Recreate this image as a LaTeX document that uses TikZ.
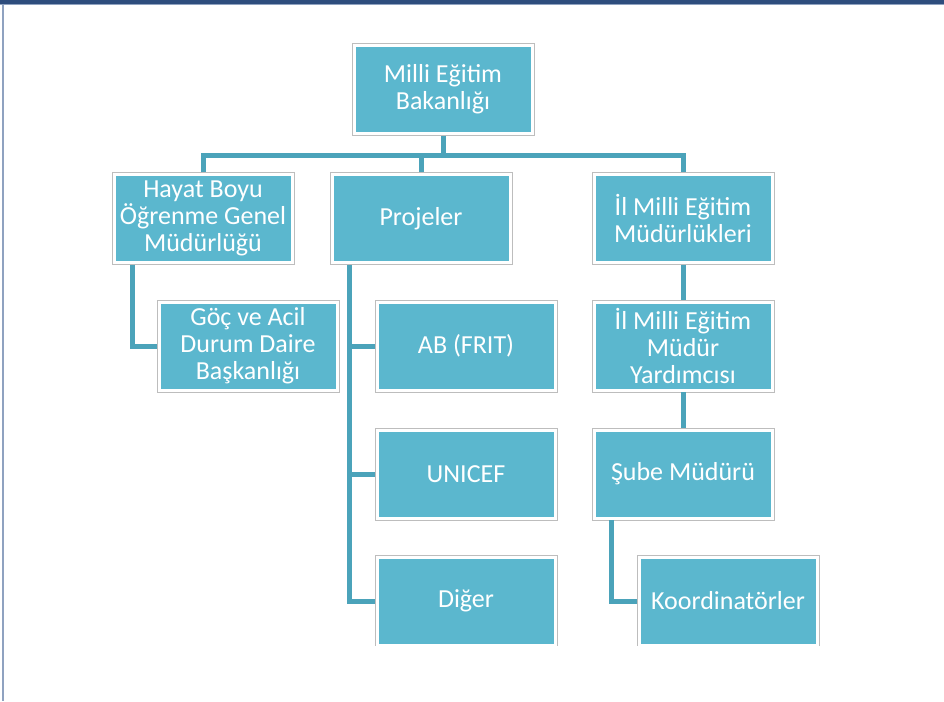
\documentclass[tikz,border=0pt]{standalone}
\usepackage{fontspec}
\setmainfont{Carlito}
\definecolor{boxfill}{HTML}{5BB7CE}
\definecolor{linkcol}{HTML}{4BA3BA}
\definecolor{framecol}{HTML}{BDBDBD}
\definecolor{barcol}{HTML}{2E4D7D}
\definecolor{rulecol}{HTML}{8FA2C0}
\tikzstyle{unit}=[rectangle,fill=boxfill,draw=white,line width=3pt,preaction={draw=framecol,line width=5pt},minimum width=178pt,minimum height=88pt,inner sep=0pt,outer sep=2.25pt,align=center,text=white,font=\fontsize{26}{27}\selectfont]
\tikzstyle{link} = [draw=linkcol,line width=5pt]

\begin{document}
\begin{tikzpicture}[x=1pt,y=-1pt]
                  \useasboundingbox (0,0) rectangle (944,701);
                  % Frame of the slide
                  \fill[barcol] (0,0) rectangle (944,4);
                  \fill[rulecol] (0,4) rectangle (944,5.5);
                  \fill[rulecol] (2,4) rectangle (4,701);
                  \begin{scope}
                  \clip (5,6) rectangle (944,645.5);
                  % First we draw the units
                  \foreach \pos/\name/\la in {{(443,89.5)/top/Milli Eğitim\\Bakanlığı},
                  {(203,218.5)/hayat/Hayat Boyu\\Öğrenme Genel\\Müdürlüğü},
                  {(421,218.5)/proj/Projeler},
                  {(683,218.5)/il/İl Milli Eğitim\\Müdürlükleri},
                  {(248,346)/goc/Göç ve Acil\\Durum Daire\\Başkanlığı},
                  {(466,346)/ab/AB (FRIT)},
                  {(683,346)/yard/İl Milli Eğitim\\Müdür\\Yardımcısı},
                  {(466,474)/unicef/UNICEF},
                  {(683,474)/sube/Şube Müdürü},
                  {(466,601)/diger/Diğer},
                  {(728,601)/koord/Koordinatörler}}
                        \node[unit] (\name) at \pos {\la};
                  % Then the links between them
                  \coordinate (bus) at (443,155);
                  \coordinate (hbar) at ([xshift=-71pt]hayat.south);
                  \coordinate (pbar) at ([xshift=-72pt]proj.south);
                  \coordinate (sbar) at ([xshift=-72pt]sube.south);
                  \path[link] (top.south) -- (bus);
                  \path[link] (hayat.north) |- (bus) -| (il.north);
                  \path[link] (proj.north) -- (proj.north |- bus);
                  \path[link] (hbar) |- (goc.west);
                  \path[link] (pbar) |- (diger.west);
                  \foreach \dest in {ab,unicef}
                  \path[link] (pbar |- \dest.west) -- (\dest.west);
                  \foreach \source/ \dest in {il/yard,yard/sube}
                  \path[link] (\source) -- (\dest);
                  \path[link] (sbar) |- (koord.west);
                  \end{scope}
            \end{tikzpicture}
\end{document}
